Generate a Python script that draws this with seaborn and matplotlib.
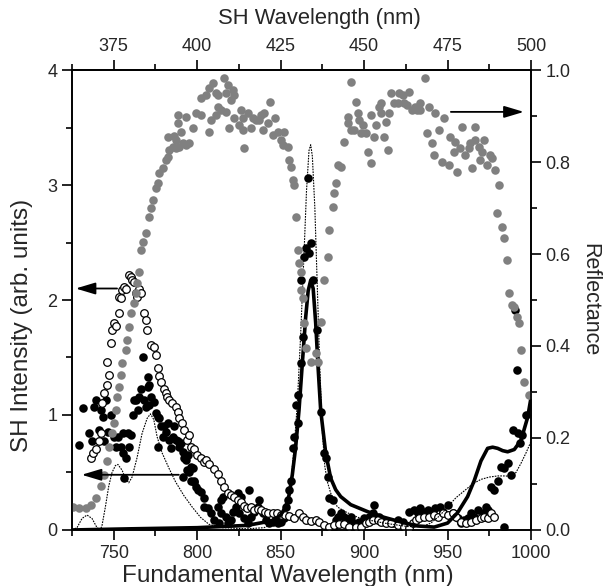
import matplotlib
matplotlib.use("Agg")
import matplotlib.pyplot as plt
import seaborn as sns
from matplotlib.ticker import MultipleLocator, FixedLocator, FormatStrFormatter

sns.set_style("ticks")
plt.rcParams["font.family"] = ["Liberation Sans", "DejaVu Sans"]

# ---------------------------------------------------------------------------
# data
# ---------------------------------------------------------------------------
# reflectance (grey dots, right axis)
gray_nm = [725.4, 729.0, 733.2, 736.2, 739.2, 742.2, 744.0, 745.8, 747.0, 748.8,
           750.0, 751.2, 751.8, 753.0, 754.2, 754.8, 757.2, 757.8, 759.0, 760.2,
           762.0, 763.2, 763.8, 765.0, 766.2, 767.4, 769.2, 771.0, 772.2, 773.4,
           775.2, 776.4, 777.0, 779.4, 781.2, 782.4, 783.0, 785.4, 787.2, 787.2,
           789.0, 791.4, 793.2, 795.0, 782.4, 786.0, 797.4, 788.4, 790.2, 788.4,
           793.2, 799.2, 802.2, 807.0, 808.2, 811.2, 802.2, 805.2, 807.0, 809.4,
           811.2, 812.4, 816.0, 818.4, 817.2, 821.4, 822.0, 820.2, 812.4, 814.2,
           817.2, 819.0, 822.0, 825.0, 827.4, 826.2, 827.4, 830.4, 833.4, 835.2,
           838.2, 840.0, 837.0, 839.4, 832.2, 828.0, 842.4, 843.6, 846.6, 845.4,
           848.4, 850.2, 852.0, 851.4, 854.4, 855.0, 856.2, 857.4, 858.0, 859.2,
           860.4, 861.0, 862.2, 862.2, 863.4, 864.0, 865.2, 868.2, 872.4, 871.2,
           874.2, 876.0, 878.4, 879.0, 881.4, 882.0, 883.2, 884.4, 886.2, 888.0,
           890.4, 890.4, 892.2, 894.0, 892.2, 895.2, 896.4, 897.0, 899.4, 898.2,
           901.2, 902.4, 904.2, 904.2, 906.0, 907.2, 909.0, 910.2, 910.2, 912.0,
           913.2, 914.4, 915.0, 916.2, 918.0, 920.4, 921.0, 923.4, 924.0, 927.0,
           925.8, 928.8, 930.6, 931.8, 933.6, 933.6, 936.6, 939.0, 942.6, 945.0,
           937.8, 940.8, 942.0, 946.8, 948.0, 951.0, 951.6, 954.6, 954.0, 955.8,
           957.6, 958.8, 960.6, 963.0, 963.6, 964.8, 966.6, 966.6, 969.0, 970.8,
           972.0, 969.6, 973.8, 975.6, 976.8, 978.6, 981.0, 979.8, 982.8, 984.0,
           985.8, 987.0, 988.8, 990.0, 991.8, 993.0, 994.2, 996.0, 999.0]
gray_R = [0.050, 0.048, 0.047, 0.055, 0.070, 0.095, 0.120, 0.150, 0.180, 0.211,
          0.233, 0.261, 0.289, 0.311, 0.337, 0.363, 0.391, 0.413, 0.441, 0.472,
          0.493, 0.515, 0.537, 0.561, 0.609, 0.626, 0.646, 0.680, 0.700, 0.717,
          0.743, 0.754, 0.776, 0.787, 0.804, 0.811, 0.826, 0.833, 0.830, 0.848,
          0.833, 0.841, 0.837, 0.841, 0.854, 0.857, 0.874, 0.885, 0.865, 0.902,
          0.898, 0.907, 0.902, 0.865, 0.891, 0.902, 0.939, 0.946, 0.961, 0.972,
          0.950, 0.946, 0.983, 0.967, 0.950, 0.957, 0.946, 0.935, 0.920, 0.913,
          0.909, 0.874, 0.896, 0.880, 0.870, 0.913, 0.896, 0.907, 0.896, 0.891,
          0.902, 0.907, 0.891, 0.870, 0.874, 0.830, 0.885, 0.930, 0.896, 0.859,
          0.865, 0.848, 0.865, 0.837, 0.833, 0.804, 0.789, 0.761, 0.750, 0.680,
          0.609, 0.580, 0.561, 0.522, 0.504, 0.450, 0.396, 0.365, 0.365, 0.385,
          0.452, 0.543, 0.593, 0.652, 0.702, 0.733, 0.754, 0.793, 0.789, 0.843,
          0.885, 0.898, 0.870, 0.870, 0.974, 0.930, 0.907, 0.891, 0.880, 0.863,
          0.863, 0.822, 0.798, 0.902, 0.854, 0.880, 0.920, 0.928, 0.907, 0.854,
          0.887, 0.826, 0.907, 0.950, 0.928, 0.928, 0.950, 0.946, 0.928, 0.952,
          0.924, 0.913, 0.920, 0.913, 0.928, 0.913, 0.983, 0.920, 0.907, 0.870,
          0.863, 0.841, 0.815, 0.800, 0.896, 0.793, 0.854, 0.843, 0.822, 0.778,
          0.830, 0.876, 0.815, 0.830, 0.841, 0.787, 0.876, 0.848, 0.833, 0.822,
          0.848, 0.804, 0.793, 0.815, 0.809, 0.783, 0.750, 0.689, 0.659, 0.635,
          0.587, 0.515, 0.489, 0.485, 0.463, 0.450, 0.391, 0.322, 0.293]

# SH intensity, open circles
open_nm = [736.2, 737.4, 739.2, 741.0, 742.2, 742.8, 744.0, 745.8, 747.0, 745.8,
           748.2, 748.8, 750.0, 751.2, 753.0, 753.0, 754.2, 754.8, 756.0, 757.2,
           759.0, 760.2, 760.8, 762.0, 763.2, 763.8, 765.0, 766.2, 768.0, 769.2,
           769.8, 772.2, 774.0, 775.2, 776.4, 777.0, 778.2, 780.0, 781.2, 781.8,
           783.0, 784.8, 787.2, 788.4, 789.0, 790.8, 792.0, 793.8, 795.0, 796.2,
           798.0, 799.8, 802.2, 804.0, 805.2, 807.0, 810.0, 812.4, 814.2, 816.0,
           818.4, 820.2, 822.0, 824.4, 826.2, 828.0, 829.8, 832.2, 834.0, 836.4,
           838.2, 840.6, 842.4, 845.4, 847.8, 850.2, 852.6, 855.0, 858.0, 861.0,
           863.4, 865.2, 868.2, 871.2, 873.0, 876.0, 879.0, 882.0, 885.0, 888.0,
           891.0, 895.2, 898.2, 901.2, 903.0, 905.4, 908.4, 910.2, 913.2, 916.2,
           920.4, 924.0, 927.0, 929.4, 931.2, 933.0, 936.0, 939.0, 942.0, 944.4,
           947.4, 950.4, 953.4, 955.2, 958.2, 961.2, 964.2, 967.2, 970.2, 972.0,
           974.4, 976.2, 978.0]
open_sh = [0.63, 0.67, 0.70, 0.77, 0.84, 1.10, 1.19, 1.26, 1.35, 1.46,
           1.63, 1.74, 1.80, 1.77, 1.89, 2.03, 2.02, 2.09, 2.11, 2.10,
           2.22, 2.20, 2.17, 2.16, 2.06, 2.03, 2.10, 2.06, 1.89, 1.83,
           1.74, 1.61, 1.59, 1.52, 1.41, 1.34, 1.29, 1.23, 1.19, 1.16,
           1.13, 1.10, 1.07, 1.03, 0.97, 0.93, 0.87, 0.78, 0.83, 0.72,
           0.70, 0.65, 0.63, 0.59, 0.61, 0.57, 0.53, 0.49, 0.43, 0.37,
           0.32, 0.30, 0.29, 0.26, 0.24, 0.21, 0.19, 0.20, 0.17, 0.18,
           0.17, 0.16, 0.15, 0.15, 0.15, 0.13, 0.13, 0.12, 0.10, 0.15,
           0.11, 0.09, 0.08, 0.09, 0.07, 0.04, 0.03, 0.04, 0.05, 0.05,
           0.03, 0.03, 0.03, 0.06, 0.07, 0.09, 0.09, 0.07, 0.06, 0.06,
           0.04, 0.03, 0.02, 0.06, 0.09, 0.10, 0.11, 0.11, 0.13, 0.11,
           0.15, 0.13, 0.15, 0.11, 0.07, 0.06, 0.07, 0.09, 0.10, 0.11,
           0.10, 0.15, 0.11]

# SH intensity, filled black circles
black_nm = [729.0, 731.4, 735.0, 739.2, 738.0, 741.0, 742.2, 743.4, 744.0, 745.2,
            746.4, 750.0, 751.2, 752.4, 754.2, 755.4, 755.4, 757.2, 758.4, 759.0,
            760.2, 761.4, 762.0, 763.2, 764.4, 765.0, 766.2, 767.4, 768.0, 769.2,
            770.4, 770.4, 771.0, 771.0, 772.2, 774.0, 775.2, 776.4, 777.0, 778.2,
            779.4, 776.4, 780.0, 781.2, 782.4, 783.0, 784.2, 785.4, 786.0, 787.2,
            788.4, 789.0, 790.2, 791.4, 792.0, 793.2, 794.4, 795.0, 796.2, 797.4,
            798.0, 799.2, 800.4, 802.2, 736.8, 748.2, 756.0, 791.4, 796.2, 798.0,
            793.8, 804.0, 804.0, 806.4, 808.2, 810.0, 812.4, 813.0, 814.2, 815.4,
            817.2, 818.4, 820.2, 821.4, 823.2, 825.0, 826.2, 828.0, 830.4, 831.0,
            832.2, 834.0, 836.4, 837.0, 839.4, 841.2, 843.0, 845.4, 847.2, 848.4,
            850.2, 852.0, 853.2, 854.4, 855.0, 856.2, 857.4, 858.0, 859.2, 860.4,
            824.4, 814.2, 860.4, 862.2, 863.4, 862.2, 864.0, 865.2, 866.4, 867.0,
            868.2, 869.4, 871.8, 874.2, 876.0, 877.2, 878.4, 879.0, 881.4, 880.2,
            883.2, 882.0, 884.4, 886.2, 888.0, 890.4, 892.2, 894.0, 897.0, 900.0,
            903.0, 905.4, 906.0, 909.0, 911.4, 914.4, 917.4, 920.4, 923.4, 927.0,
            930.0, 932.4, 933.6, 936.6, 938.4, 940.8, 942.6, 945.6, 947.4, 950.4,
            953.4, 956.4, 958.2, 960.0, 962.4, 964.2, 966.0, 968.4, 971.4, 973.2,
            974.4, 976.2, 978.0, 980.4, 982.2, 984.0, 986.4, 988.2, 989.4, 984.0,
            990.6, 991.8, 992.4, 993.6, 994.8, 997.2]
black_sh = [0.74, 1.06, 0.84, 1.13, 1.07, 0.87, 1.04, 0.98, 0.77, 1.13,
            0.85, 0.81, 0.72, 0.81, 0.72, 0.84, 0.67, 0.63, 0.84, 0.72,
            0.83, 1.00, 1.13, 1.13, 1.04, 1.16, 1.23, 1.50, 1.13, 1.07,
            1.33, 1.24, 1.26, 1.09, 1.16, 1.11, 1.02, 0.98, 0.97, 0.90,
            0.81, 0.72, 0.90, 0.85, 0.93, 0.78, 0.71, 0.81, 0.90, 0.78,
            0.77, 0.72, 0.76, 0.68, 0.63, 0.61, 0.65, 0.50, 0.55, 0.54,
            0.42, 0.37, 0.35, 0.33, 0.77, 1.00, 0.45, 0.46, 0.43, 0.43,
            0.52, 0.20, 0.28, 0.19, 0.15, 0.09, 0.20, 0.06, 0.15, 0.29,
            0.11, 0.06, 0.09, 0.16, 0.20, 0.15, 0.29, 0.10, 0.06, 0.35,
            0.11, 0.16, 0.20, 0.26, 0.15, 0.09, 0.06, 0.07, 0.11, 0.06,
            0.07, 0.10, 0.20, 0.26, 0.35, 0.43, 0.71, 0.81, 1.09, 1.17,
            0.32, 0.26, 0.93, 1.45, 1.68, 2.17, 2.37, 2.45, 3.06, 2.41,
            2.50, 2.17, 1.74, 1.03, 0.67, 0.63, 0.46, 0.28, 0.26, 0.16,
            0.09, 0.03, 0.11, 0.15, 0.11, 0.09, 0.11, 0.06, 0.07, 0.10,
            0.11, 0.15, 0.22, 0.11, 0.09, 0.07, 0.06, 0.09, 0.07, 0.16,
            0.17, 0.15, 0.19, 0.16, 0.17, 0.15, 0.19, 0.20, 0.16, 0.22,
            0.15, 0.10, 0.06, 0.09, 0.10, 0.15, 0.11, 0.17, 0.15, 0.20,
            0.17, 0.37, 0.35, 0.43, 0.55, 0.54, 0.58, 0.48, 0.87, 0.03,
            1.91, 1.39, 0.84, 0.76, 0.83, 1.00]

# calculated curves
thick_nm = [725, 760, 800, 830, 845, 850, 853, 855, 857, 859, 861, 863, 865, 866.5,
            868, 869.5, 871, 872.5, 874, 877, 880, 883, 886, 892, 902, 912, 922,
            932, 942, 950, 956, 962, 966, 970, 974, 977, 980, 983, 986, 990, 994,
            998, 1000]
thick_sh = [0.0, 0.01, 0.02, 0.04, 0.08, 0.13, 0.2, 0.3, 0.48, 0.72, 1.04, 1.45, 1.85,
            2.08, 2.17, 2.1, 1.8, 1.4, 1.04, 0.67, 0.45, 0.35, 0.29, 0.22, 0.16, 0.11,
            0.07, 0.035, 0.025, 0.06, 0.15, 0.29, 0.43, 0.6, 0.71, 0.72, 0.71, 0.69,
            0.68, 0.70, 0.78, 0.98, 1.15]

thin_nm = [725, 728, 731, 734, 737, 740, 742, 743, 745, 747, 749, 751, 752.5, 755,
           757, 759, 761, 764, 767, 770, 772, 774, 776, 779, 783, 787, 792, 797,
           802, 807, 815, 830, 840, 845, 850, 853, 856, 858, 860, 862, 864, 865.5,
           867, 868, 869, 870.5, 872, 873.5, 875, 876.5, 878, 880, 884, 890, 898,
           912, 926, 935, 940, 945, 950, 955, 960, 965, 970, 975, 980, 985, 988,
           991, 994, 997, 1000]
thin_sh = [0.0, 0.02, 0.1, 0.13, 0.1, 0.02, 0.0, 0.04, 0.2, 0.38, 0.5, 0.56, 0.57, 0.52,
           0.45, 0.41, 0.46, 0.63, 0.84, 0.97, 1.01, 0.96, 0.81, 0.67, 0.54, 0.42,
           0.30, 0.2, 0.11, 0.05, 0.02, 0.01, 0.02, 0.05, 0.1, 0.2, 0.4, 0.7, 1.1,
           1.7, 2.4, 2.95, 3.3, 3.35, 3.25, 2.8, 2.1, 1.4, 0.85, 0.55, 0.42, 0.32,
           0.2, 0.15, 0.1, 0.06, 0.03, 0.03, 0.06, 0.12, 0.2, 0.28, 0.34, 0.4, 0.44,
           0.46, 0.47, 0.47, 0.46, 0.5, 0.58, 0.67, 0.77]

sh_ticks = [375, 400, 425, 450, 475, 500]

# ---------------------------------------------------------------------------
# plot
# ---------------------------------------------------------------------------
fig = plt.figure(figsize=(6.07, 5.86), dpi=100)
ax = fig.add_axes([0.1186, 0.0956, 0.7562, 0.7849])
ax2 = ax.twinx()

sns.scatterplot(x=black_nm, y=black_sh, ax=ax, color="black", s=38,
                linewidth=0, zorder=3)
sns.scatterplot(x=open_nm, y=open_sh, ax=ax, color="white", s=30,
                edgecolor="black", linewidth=0.9, zorder=3)
sns.lineplot(x=thick_nm, y=thick_sh, ax=ax, color="black", lw=2.6,
             estimator=None, zorder=4)
sns.lineplot(x=thin_nm, y=thin_sh, ax=ax, color="black", lw=0.8,
             ls=(0, (1.5, 1)), estimator=None, zorder=4)
sns.scatterplot(x=gray_nm, y=gray_R, ax=ax2, color="#808080", s=38, linewidth=0)

ax.set_xlim(725, 1000)
ax.set_ylim(0, 4)
ax2.set_ylim(0, 1.0)

ax.xaxis.set_major_locator(MultipleLocator(50))
ax.xaxis.set_minor_locator(MultipleLocator(25))
ax.yaxis.set_major_locator(MultipleLocator(1))
ax.yaxis.set_minor_locator(MultipleLocator(0.5))
ax2.yaxis.set_major_locator(MultipleLocator(0.2))
ax2.yaxis.set_minor_locator(MultipleLocator(0.1))
ax2.yaxis.set_major_formatter(FormatStrFormatter("%.1f"))

sec = ax.secondary_xaxis("top", functions=(lambda x: x / 2, lambda x: x * 2))
sec.xaxis.set_major_locator(FixedLocator(sh_ticks))
sec.xaxis.set_minor_locator(FixedLocator([362.5 + 25 * i for i in range(6)]))

for a in (ax, ax2, sec):
    a.tick_params(which="both", direction="out", width=1.2, labelsize=13, color="black")
    a.tick_params(which="major", length=7)
    a.tick_params(which="minor", length=4.5)
ax.tick_params(top=False, right=False)
for sp in list(ax.spines.values()) + list(ax2.spines.values()):
    sp.set_linewidth(1.2)
    sp.set_color("black")
sec.spines["top"].set_linewidth(1.2)

ax.set_xlabel("")
ax.set_ylabel("")
ax2.set_xlabel("")
ax2.set_ylabel("")

# arrows pointing to the matching axis
arrow = dict(arrowstyle="-|>,head_length=0.6,head_width=0.18", color="black",
             lw=1.3, shrinkA=0, shrinkB=0, mutation_scale=20)
ax2.annotate("", xy=(727.2, 2.1 / 4), xytext=(752.0, 2.1 / 4), arrowprops=arrow)
ax2.annotate("", xy=(730.8, 0.48 / 4), xytext=(789.0, 0.48 / 4), arrowprops=arrow)
ax2.annotate("", xy=(995.7, 0.909), xytext=(952.0, 0.909), arrowprops=arrow)

fig.text(0.4745, 0.017, "Fundamental Wavelength (nm)", ha="center", va="center", fontsize=17.5)
fig.text(0.5255, 0.969, "SH Wavelength (nm)", ha="center", va="center", fontsize=15.8)
fig.text(0.036, 0.4454, "SH Intensity (arb. units)", ha="center", va="center",
         rotation=90, fontsize=17.5)
fig.text(0.972, 0.488, "Reflectance", ha="center", va="center", rotation=-90, fontsize=15.5)

fig.savefig("out.png", dpi=100)
